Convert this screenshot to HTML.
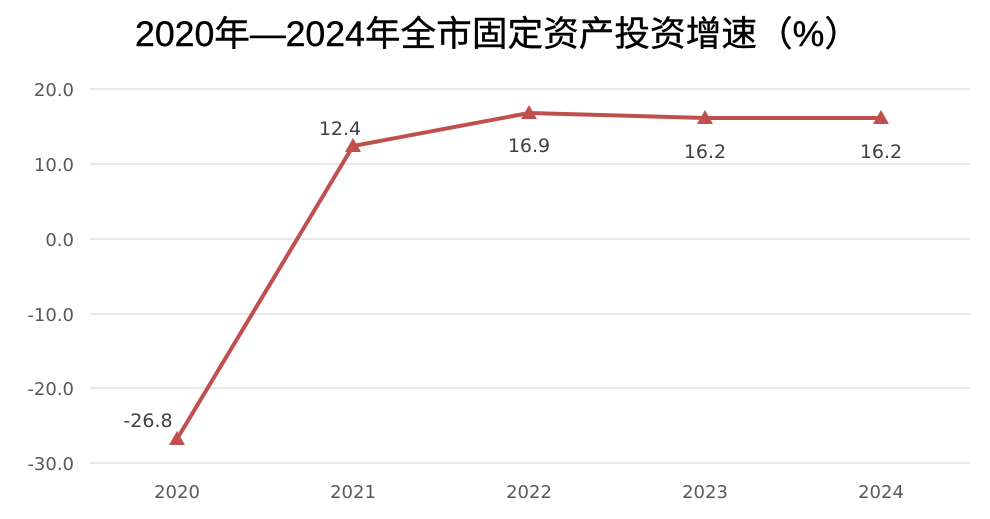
<!DOCTYPE html>
<html><head><meta charset="utf-8"><style>
body{margin:0;background:#fff;}
svg{display:block;font-family:"DejaVu Sans","Liberation Sans","Noto Sans CJK SC",sans-serif;}
</style></head><body>
<svg width="990" height="519" viewBox="0 0 990 519">
<text x="135" y="46" textLength="725" lengthAdjust="spacingAndGlyphs" font-size="35" fill="#000" stroke="#000" stroke-width="0.4" font-family="'Liberation Sans','Noto Sans CJK SC',sans-serif">2020年—2024年全市固定资产投资增速（%）</text>
<g stroke="#d9d9d9" stroke-width="1.3">
<line x1="90" y1="89" x2="970" y2="89"/>
<line x1="90" y1="164" x2="970" y2="164"/>
<line x1="90" y1="239" x2="970" y2="239"/>
<line x1="90" y1="314" x2="970" y2="314"/>
<line x1="90" y1="388" x2="970" y2="388"/>
<line x1="90" y1="463" x2="970" y2="463"/>
</g>
<g font-size="18" fill="#595959" text-anchor="end">
<text x="74" y="96">20.0</text>
<text x="74" y="171">10.0</text>
<text x="74" y="246">0.0</text>
<text x="74" y="321">-10.0</text>
<text x="74" y="395">-20.0</text>
<text x="74" y="470">-30.0</text>
</g>
<g font-size="18" fill="#595959" text-anchor="middle">
<text x="177" y="498">2020</text>
<text x="353" y="498">2021</text>
<text x="529" y="498">2022</text>
<text x="705" y="498">2023</text>
<text x="881" y="498">2024</text>
</g>
<polyline points="177,439 353,146 529,113 705,118 881,118" fill="none" stroke="#c0504d" stroke-width="4" stroke-linejoin="round"/>
<g fill="#c0504d">
<polygon points="177,431 185,445 169,445"/>
<polygon points="353,138 361,152 345,152"/>
<polygon points="529,105 537,119 521,119"/>
<polygon points="705,110 713,124 697,124"/>
<polygon points="881,110 889,124 873,124"/>
</g>
<g font-size="19" fill="#404040" text-anchor="middle">
<text x="148" y="427">-26.8</text>
<text x="340" y="135">12.4</text>
<text x="529" y="152">16.9</text>
<text x="705" y="158">16.2</text>
<text x="881" y="158">16.2</text>
</g>
</svg>
</body></html>
